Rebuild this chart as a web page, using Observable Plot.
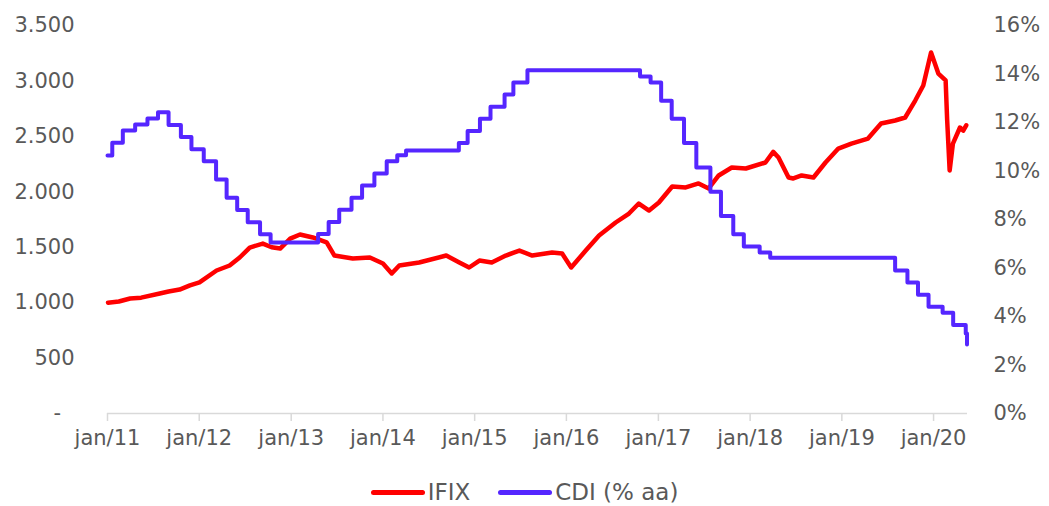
<!DOCTYPE html>
<html>
<head>
<meta charset="utf-8">
<script src="https://cdn.jsdelivr.net/npm/d3@7"></script>
<script src="https://cdn.jsdelivr.net/npm/@observablehq/plot@0.6"></script>
<style>
  html, body { margin: 0; padding: 0; background: #ffffff; }
  #chart { width: 1049px; }
  .legend { width: 1049px; height: 54px; display: flex; justify-content: center; align-items: center;
            font-family: "DejaVu Sans", sans-serif; font-size: 23px; color: #595959; }
  .legend .item { display: flex; align-items: center; margin: 0 14px; }
  .legend .swatch { width: 54px; height: 5px; border-radius: 3px; margin-right: 3px; }
</style>
</head>
<body>
<div id="chart"></div>
<script>
// IFIX (points)
const ifixDates = [
  "2011-01-03","2011-02-15","2011-04-01","2011-05-15","2011-07-28","2011-09-01","2011-10-15","2011-11-25",
  "2012-01-02","2012-03-10","2012-05-01","2012-06-10","2012-07-20","2012-09-10","2012-10-15","2012-11-18","2012-12-28",
  "2013-02-05","2013-03-28","2013-05-22","2013-06-22","2013-09-03","2013-11-10",
  "2014-01-01","2014-02-05","2014-03-07","2014-05-25","2014-09-10","2014-11-01","2014-12-10",
  "2015-01-20","2015-03-10","2015-05-05","2015-06-28","2015-08-18","2015-11-05","2015-12-15",
  "2016-01-20","2016-03-18","2016-05-10","2016-07-15","2016-09-06","2016-10-15","2016-11-25",
  "2017-01-03","2017-02-25","2017-04-20","2017-06-10","2017-07-20","2017-08-29","2017-10-20","2017-12-15",
  "2018-03-03","2018-04-03","2018-04-24","2018-06-03","2018-06-22","2018-07-25","2018-09-10","2018-10-28","2018-12-18",
  "2019-02-08","2019-04-15","2019-06-06","2019-08-01","2019-09-10","2019-10-20","2019-11-21","2019-12-22",
  "2020-01-20","2020-02-18","2020-02-24","2020-03-05","2020-03-18","2020-04-15","2020-04-28","2020-05-10"
];
const ifixValues = [
  1000,1010,1037,1045,1083,1100,1118,1155,
  1182,1290,1335,1407,1497,1533,1500,1488,1578,
  1615,1588,1543,1425,1398,1407,
  1353,1263,1335,1362,1425,1362,1317,
  1380,1362,1425,1470,1425,1452,1443,
  1317,1470,1605,1723,1804,1894,1831,
  1903,2048,2039,2075,2030,2147,2219,2210,
  2264,2360,2309,2129,2120,2147,2129,2264,2390,
  2435,2480,2616,2643,2670,2823,2959,3256,
  3067,3004,2650,2192,2435,2580,2552,2600
];

// CDI (% a.a.) step changes
const cdiDates = [
  "2011-01-01","2011-01-20","2011-03-03","2011-04-21","2011-06-09","2011-07-21","2011-09-01","2011-10-20","2011-12-01",
  "2012-01-19","2012-03-08","2012-04-19","2012-05-31","2012-07-12","2012-08-30","2012-10-11",
  "2013-04-18","2013-05-30","2013-07-11","2013-08-29","2013-10-10","2013-11-28",
  "2014-01-16","2014-02-27","2014-04-03","2014-10-30","2014-12-04",
  "2015-01-22","2015-03-05","2015-04-30","2015-06-04","2015-07-30",
  "2016-10-20","2016-12-01",
  "2017-01-12","2017-02-23","2017-04-13","2017-06-01","2017-07-27","2017-09-07","2017-10-26","2017-12-07",
  "2018-02-08","2018-03-22",
  "2019-08-01","2019-09-19","2019-10-31","2019-12-12",
  "2020-02-06","2020-03-19","2020-05-08","2020-05-13"
];
const cdiValues = [
  10.64,11.17,11.67,11.92,12.17,12.42,11.90,11.40,10.90,
  10.40,9.65,8.90,8.39,7.89,7.39,7.05,
  7.40,7.90,8.40,8.90,9.40,9.90,
  10.40,10.65,10.85,11.15,11.65,
  12.15,12.65,13.15,13.65,14.15,
  13.90,13.65,
  12.90,12.15,11.15,10.14,9.14,8.14,7.39,6.89,
  6.64,6.42,
  5.90,5.40,4.90,4.40,
  4.15,3.65,3.30,2.85
];

const leftTicks = [0, 500, 1000, 1500, 2000, 2500, 3000, 3500];
const rightTicks = [0, 2, 4, 6, 8, 10, 12, 14, 16];
const xTickYears = [2011, 2012, 2013, 2014, 2015, 2016, 2017, 2018, 2019, 2020];

const ifix = ifixDates.map((d, i) => ({date: new Date(d), value: ifixValues[i]}));
const cdi = cdiDates.map((d, i) => ({date: new Date(d), value: cdiValues[i]}));
const k = 3500 / 16; // right axis (0–16%) aligned with left axis (0–3500)

const fmtLeft = d => d === 0 ? "-\u00a0\u00a0" : d3.format(",")(d).replace(/,/g, ".");

const chart = Plot.plot({
  width: 1049,
  height: 465,
  marginLeft: 107,
  marginRight: 82,
  marginTop: 25,
  marginBottom: 52,
  style: {fontFamily: "DejaVu Sans, sans-serif", fontSize: "21px", color: "#595959", background: "#ffffff"},
  x: {type: "utc", domain: [new Date("2011-01-01"), new Date("2020-05-15")]},
  y: {domain: [0, 3500]},
  marks: [
    Plot.axisY(leftTicks, {anchor: "left", label: null, tickSize: 0, tickPadding: 33, tickFormat: fmtLeft, fill: "#595959"}),
    Plot.axisY(rightTicks.map(v => v * k), {anchor: "right", label: null, tickSize: 0, tickPadding: 26,
      tickFormat: d => Math.round(d / k) + "%", fill: "#595959"}),
    Plot.ruleY([0], {stroke: "#d9d9d9", strokeWidth: 1.5}),
    Plot.axisX(xTickYears.map(y => new Date(Date.UTC(y, 0, 1))), {
      anchor: "bottom", label: null, tickSize: 8, tickPadding: 9, stroke: "#d9d9d9", strokeWidth: 1.5, fill: "#595959",
      tickFormat: d => "jan/" + String(d.getUTCFullYear()).slice(2)
    }),
    Plot.line(ifix, {x: "date", y: "value", stroke: "#ff0000", strokeWidth: 4.5, strokeLinejoin: "round"}),
    Plot.line(cdi, {x: "date", y: d => d.value * k, stroke: "#5526ff", strokeWidth: 4, curve: "step-after", strokeLinejoin: "round"})
  ]
});
document.getElementById("chart").appendChild(chart);

const legend = document.createElement("div");
legend.className = "legend";
legend.innerHTML =
  '<div class="item"><div class="swatch" style="background:#ff0000"></div><span>IFIX</span></div>' +
  '<div class="item"><div class="swatch" style="background:#5526ff"></div><span>CDI (% aa)</span></div>';
document.getElementById("chart").appendChild(legend);
</script>
</body>
</html>
